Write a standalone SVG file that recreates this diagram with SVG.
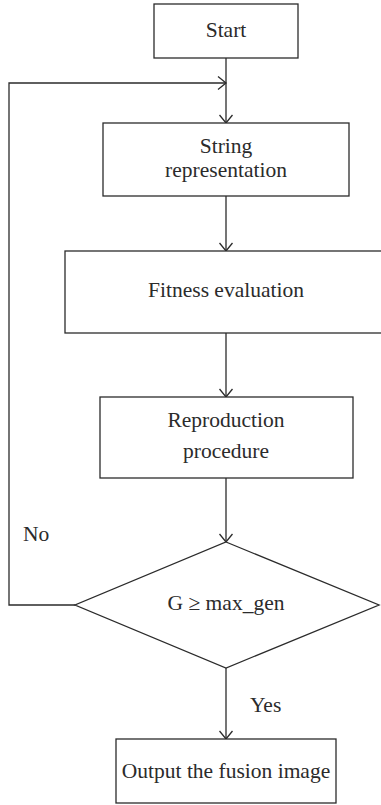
<svg xmlns="http://www.w3.org/2000/svg" width="381" height="805" viewBox="0 0 381 805">
<style>
.box{fill:#fff;stroke:#2b2b2b;stroke-width:1.3}
.ln{fill:none;stroke:#2b2b2b;stroke-width:1.3}
.t{font-family:"Liberation Serif","Times New Roman",serif;font-size:21.5px;fill:#2b2b2b;text-anchor:middle}
.l{font-family:"Liberation Serif","Times New Roman",serif;font-size:21.5px;fill:#2b2b2b}
</style>
<defs>
<marker id="arr" markerWidth="12" markerHeight="14" refX="9" refY="7" orient="auto" markerUnits="userSpaceOnUse">
<polyline points="1,0.5 9,7 1,13.5" fill="none" stroke="#2b2b2b" stroke-width="1.3"/>
</marker>
</defs>
<rect width="381" height="805" fill="#fff"/>
<g id="connectors">
<line class="ln" x1="226" y1="58" x2="226" y2="123" marker-end="url(#arr)"/>
<polyline class="ln" points="75,605 9,605 9,83 226,83" marker-end="url(#arr)"/>
<line class="ln" x1="226" y1="196" x2="226" y2="251" marker-end="url(#arr)"/>
<line class="ln" x1="226" y1="333" x2="226" y2="397" marker-end="url(#arr)"/>
<line class="ln" x1="226" y1="478" x2="226" y2="542" marker-end="url(#arr)"/>
<line class="ln" x1="226" y1="668" x2="226" y2="739" marker-end="url(#arr)"/>
<text class="l" x="23" y="541">No</text>
<text class="l" x="250" y="712">Yes</text>
</g>
<g id="start">
<rect class="box" x="154" y="4" width="144" height="54"/>
<text class="t" x="226" y="37">Start</text>
</g>
<g id="string">
<rect class="box" x="103" y="123" width="246" height="73"/>
<text class="t" x="226" y="153">String</text>
<text class="t" x="226" y="177">representation</text>
</g>
<g id="fitness">
<rect class="box" x="65" y="251" width="322" height="82"/>
<text class="t" x="226" y="297">Fitness evaluation</text>
</g>
<g id="reproduction">
<rect class="box" x="100" y="397" width="253" height="81"/>
<text class="t" x="226" y="427">Reproduction</text>
<text class="t" x="226" y="458">procedure</text>
</g>
<g id="decision">
<polygon class="box" points="226,542 379,605 226,668 75,605"/>
<text class="t" x="226" y="610">G ≥ max_gen</text>
</g>
<g id="output">
<rect class="box" x="116" y="739" width="220" height="64"/>
<text class="t" x="226" y="778">Output the fusion image</text>
</g>
</svg>
